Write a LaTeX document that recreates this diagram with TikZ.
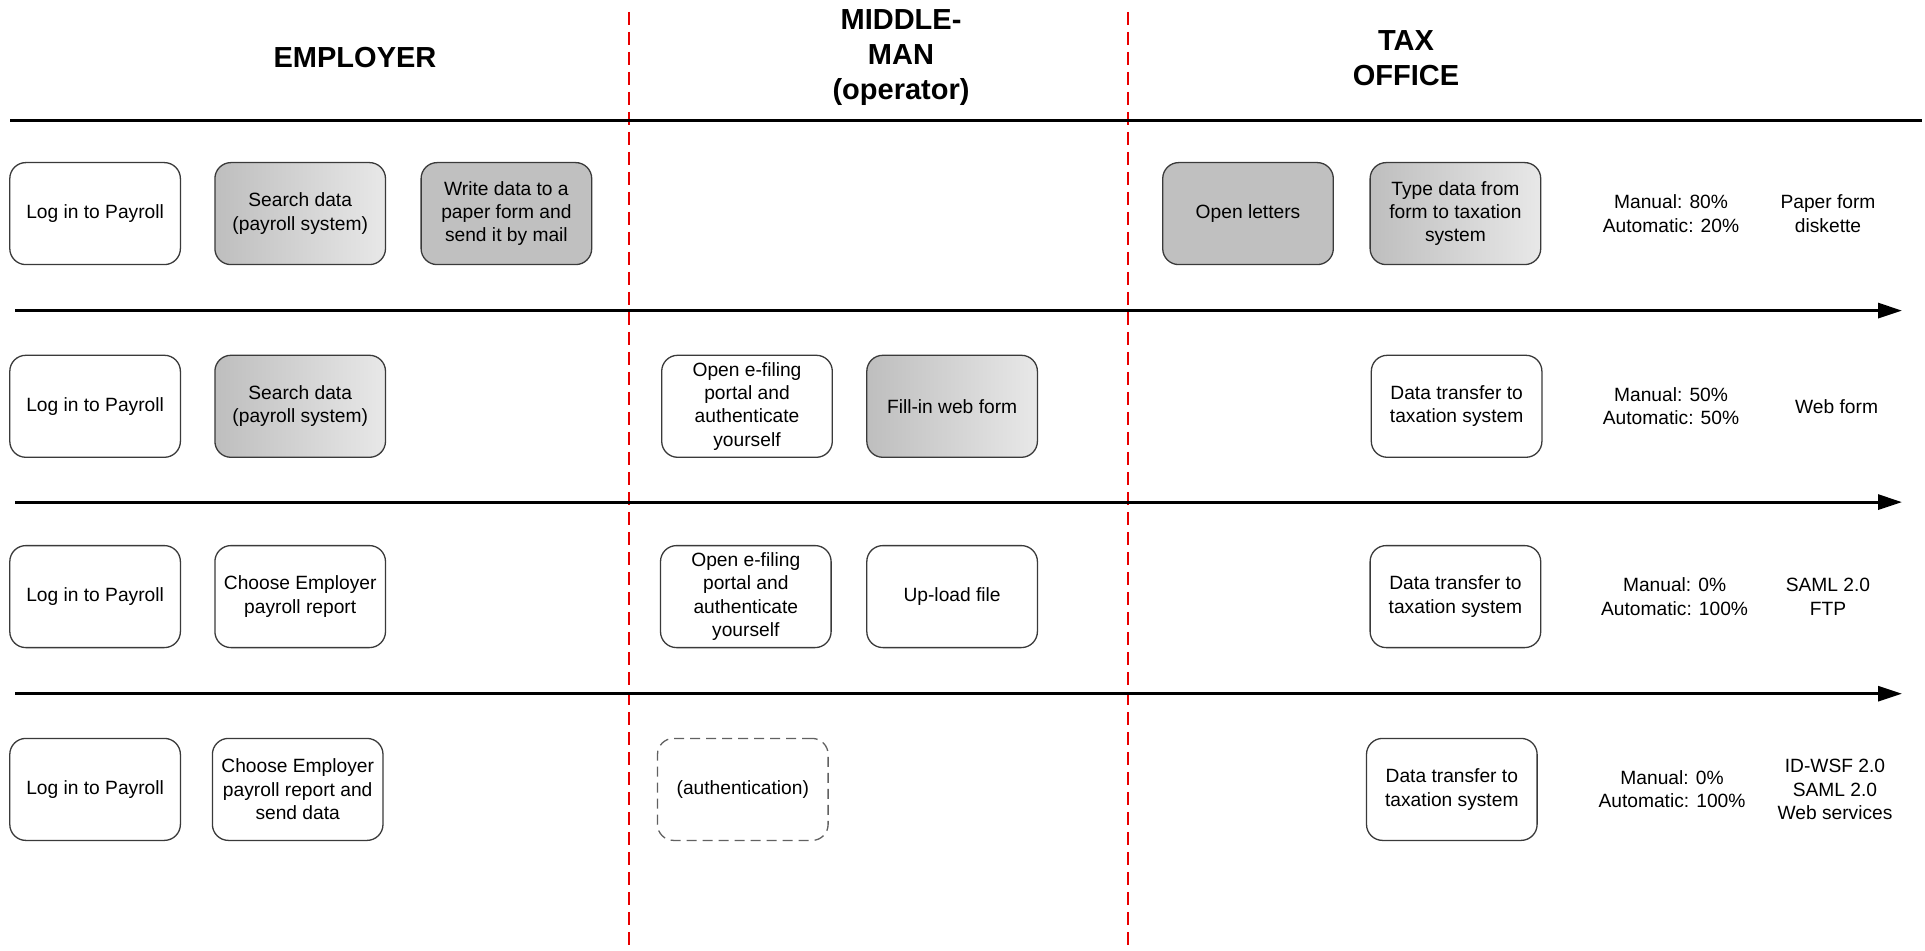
\documentclass[tikz,border=0pt]{standalone}
\usepackage{fontspec}
\setmainfont{Liberation Sans}
\usetikzlibrary{arrows.meta}
\definecolor{boxline}{HTML}{3A3A3A}
\definecolor{solidgray}{HTML}{C0C0C0}
\definecolor{gradL}{HTML}{BEBEBE}
\definecolor{gradR}{HTML}{E8E8E8}
\definecolor{redline}{HTML}{E80000}
\tikzset{
  stepbox/.style={draw=boxline, line width=0.65pt, rounded corners=8pt, minimum width=85.3pt, minimum height=51pt, inner sep=1pt, align=center, font=\fontsize{9.6}{11.7}\selectfont},
  plainbox/.style={stepbox, fill=white},
  gradbox/.style={stepbox, left color=gradL, right color=gradR},
  graybox/.style={stepbox, fill=solidgray},
  authbox/.style={stepbox, draw=boxline!80, dash pattern=on 5pt off 3pt},
  infotext/.style={align=center, font=\fontsize{9.6}{11.7}\selectfont},
  header/.style={align=center, font=\fontsize{14.5}{17.5}\selectfont\bfseries},
  lane/.style={draw=redline, line width=0.9pt, dash pattern=on 6.5pt off 3.5pt},
  timeline/.style={line width=1.5pt, -{Triangle[length=12pt,width=7.5pt]}},
}
\begin{document}
\begin{tikzpicture}[x=0.5pt,y=-0.5pt]
\useasboundingbox (0,0) rectangle (1925,951);
% lane separators
\coordinate (r1t) at (628.6,12); \coordinate (r1b) at (628.6,951);
\coordinate (r2t) at (1128.3,12); \coordinate (r2b) at (1128.3,951);
\draw[lane] (r1t) -- (r1b);
\draw[lane] (r2t) -- (r2b);
% headers
\node[header] (hemp) at (355,58) {EMPLOYER};
\node[header] (hmid) at (901,58) {MIDDLE-\\MAN\\(operator)};
\node[header] (htax) at (1406,58) {TAX\\OFFICE};
% top rule
\coordinate (tl) at (10,120.3); \coordinate (tr) at (1922,120.3);
\draw[line width=1.3pt] (tl) -- (tr);
% timelines
\coordinate (a1l) at (15,310.6); \coordinate (a1r) at (1902,310.6);
\coordinate (a2l) at (15,502.1); \coordinate (a2r) at (1902,502.1);
\coordinate (a3l) at (15,693.7); \coordinate (a3r) at (1902,693.7);
\draw[timeline] (a1l) -- (a1r);
\draw[timeline] (a2l) -- (a2r);
\draw[timeline] (a3l) -- (a3r);
% row 1
\node[plainbox] (r1a) at (95.1,213.6) {Log in to Payroll};
\node[gradbox] (r1b) at (300.2,213.6) {Search data\\(payroll system)};
\node[graybox] (r1c) at (506.4,213.6) {Write data to a\\paper form and\\send it by mail};
\node[graybox] (r1d) at (1248,213.6) {Open letters};
\node[gradbox] (r1e) at (1455.4,213.6) {Type data from\\form to taxation\\system};
\node[infotext] (r1f) at (1671,213.6) {Manual: 80\%\\Automatic: 20\%};
\node[infotext] (r1g) at (1828,213.6) {Paper form\\diskette};
% row 2
\node[plainbox] (r2a) at (95.1,406.3) {Log in to Payroll};
\node[gradbox] (r2b) at (300.2,406.3) {Search data\\(payroll system)};
\node[plainbox] (r2c) at (747,406.3) {Open e-filing\\portal and\\authenticate\\yourself};
\node[gradbox] (r2d) at (952.1,406.3) {Fill-in web form};
\node[plainbox] (r2e) at (1456.6,406.3) {Data transfer to\\taxation system};
\node[infotext] (r2f) at (1671,406.3) {Manual: 50\%\\Automatic: 50\%};
\node[infotext] (r2g) at (1836.6,406.3) {Web form};
% row 3
\node[plainbox] (r3a) at (95.1,596.6) {Log in to Payroll};
\node[plainbox] (r3b) at (300.2,596.6) {Choose Employer\\payroll report};
\node[plainbox] (r3c) at (745.8,596.6) {Open e-filing\\portal and\\authenticate\\yourself};
\node[plainbox] (r3d) at (952.1,596.6) {Up-load file};
\node[plainbox] (r3e) at (1455.4,596.6) {Data transfer to\\taxation system};
\node[infotext] (r3f) at (1674.6,596.6) {Manual: 0\%\\Automatic: 100\%};
\node[infotext] (r3g) at (1828,596.6) {SAML 2.0\\FTP};
% row 4
\node[plainbox] (r4a) at (95.1,789.4) {Log in to Payroll};
\node[plainbox] (r4b) at (297.7,789.4) {Choose Employer\\payroll report and\\send data};
\node[authbox] (r4c) at (742.8,789.4) {(authentication)};
\node[plainbox] (r4d) at (1451.8,789.4) {Data transfer to\\taxation system};
\node[infotext] (r4e) at (1672,789.4) {Manual: 0\%\\Automatic: 100\%};
\node[infotext] (r4f) at (1835,789.4) {ID-WSF 2.0\\SAML 2.0\\Web services};
\end{tikzpicture}
\end{document}
